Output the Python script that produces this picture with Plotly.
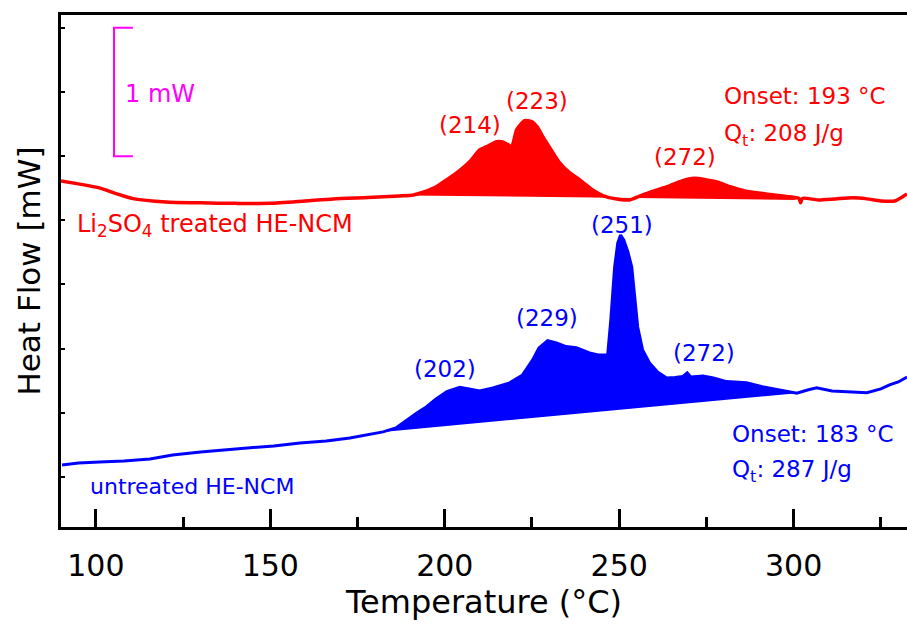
import plotly.graph_objects as go

# ---------------- data ----------------
# Li2SO4 treated HE-NCM (red)
red_T = [90, 95, 101, 106, 111, 120, 130, 140, 150, 160, 168, 178, 187, 191, 194, 197.7,
         200.5, 203.4, 207.2, 210, 212, 214.9, 216.6, 218, 219.2, 220.6, 222.9, 224.9, 226.5,
         228.1, 230.5, 233, 235.5, 238.7, 242.4, 246.4, 250.1, 253, 256, 260, 264, 268, 271.5,
         275, 278, 282, 286, 292, 298, 301.5, 302, 302.5, 307, 312, 317, 321, 325, 329, 332.5]
red_HF = [2.807, 2.784, 2.753, 2.706, 2.667, 2.643, 2.636, 2.632, 2.632, 2.651, 2.667, 2.678,
          2.690, 2.698, 2.721, 2.763, 2.815, 2.869, 2.958, 3.049, 3.074, 3.113, 3.111, 3.092,
          3.074, 3.205, 3.277, 3.269, 3.228, 3.152, 3.049, 2.945, 2.877, 2.815, 2.737, 2.682,
          2.663, 2.659, 2.690, 2.729, 2.764, 2.807, 2.827, 2.815, 2.799, 2.760, 2.729, 2.706,
          2.686, 2.671, 2.636, 2.671, 2.659, 2.667, 2.675, 2.667, 2.651, 2.651, 2.706]
red_base_T = [190, 301]
red_base_HF = [2.694, 2.659]

# untreated HE-NCM (blue)
blue_T = [90.3, 95, 101, 108, 115.5, 122, 130, 137, 144, 151, 158.5, 166, 172.8, 178, 182.3,
          186, 189, 192, 194.8, 197.5, 200.6, 204.3, 207, 210, 213.8, 218.6, 222.3, 225.2, 227,
          229.5, 232, 234.8, 237.7, 241.5, 244, 246.7, 247.6, 248.7, 249.6, 250.4, 251.3, 252.5,
          253.6, 254.5, 255.3, 256.7, 258.7, 261, 263.6, 266, 268.2, 269.5, 270.5, 274, 277,
          280.8, 286.5, 291, 296, 300.9, 304, 306.6, 311, 316, 321, 325, 327.5, 330, 332.5]
blue_HF = [0.594, 0.609, 0.617, 0.625, 0.640, 0.671, 0.695, 0.710, 0.726, 0.742, 0.765, 0.781,
           0.804, 0.827, 0.851, 0.882, 0.944, 0.999, 1.048, 1.108, 1.165, 1.199, 1.186, 1.170,
           1.194, 1.233, 1.295, 1.412, 1.505, 1.562, 1.544, 1.516, 1.508, 1.466, 1.451, 1.451,
           1.724, 2.137, 2.324, 2.386, 2.347, 2.254, 2.137, 1.895, 1.669, 1.490, 1.389, 1.318,
           1.272, 1.276, 1.282, 1.311, 1.279, 1.287, 1.272, 1.243, 1.235, 1.204, 1.178, 1.152,
           1.178, 1.194, 1.170, 1.165, 1.157, 1.186, 1.217, 1.240, 1.279]
blue_base_T = [182.3, 300.9]
blue_base_HF = [0.851, 1.152]

# scale bar (1 mW)
scale_T = [110.6, 105.2, 105.2, 110.6]
scale_HF = [4.0, 4.0, 3.0, 3.0]

x_ticks = [100, 150, 200, 250, 300]
x_range = [90, 332.5]
y_range = [0.11, 4.10]

RED = "#ff0000"
BLUE = "#0000ff"
MAG = "#ff00ff"
FONT = "DejaVu Sans"


def segment(T, HF, lo, hi):
    xs, ys = [], []
    for t, h in zip(T, HF):
        if lo <= t <= hi:
            xs.append(t)
            ys.append(h)
    return xs, ys


fig = go.Figure()

# red fill
fig.add_trace(go.Scatter(x=red_base_T, y=red_base_HF, mode="lines",
                         line=dict(width=0, color=RED), showlegend=False, hoverinfo="skip"))
rx, ry = segment(red_T, red_HF, red_base_T[0], red_base_T[1])
rx = [red_base_T[0]] + rx + [red_base_T[1]]
ry = [red_base_HF[0]] + ry + [red_base_HF[1]]
fig.add_trace(go.Scatter(x=rx, y=ry, mode="lines", fill="tonexty", fillcolor=RED,
                         line=dict(width=0, color=RED, shape="spline", smoothing=0.6),
                         showlegend=False, hoverinfo="skip"))

# blue fill
fig.add_trace(go.Scatter(x=blue_base_T, y=blue_base_HF, mode="lines",
                         line=dict(width=0, color=BLUE), showlegend=False, hoverinfo="skip"))
bx, by = segment(blue_T, blue_HF, blue_base_T[0], blue_base_T[1])
bx = [blue_base_T[0]] + bx + [blue_base_T[1]]
by = [blue_base_HF[0]] + by + [blue_base_HF[1]]
fig.add_trace(go.Scatter(x=bx, y=by, mode="lines", fill="tonexty", fillcolor=BLUE,
                         line=dict(width=0, color=BLUE), showlegend=False, hoverinfo="skip"))

# curves
fig.add_trace(go.Scatter(x=red_T, y=red_HF, mode="lines",
                         line=dict(color=RED, width=3.5, shape="spline", smoothing=0.6),
                         showlegend=False))
fig.add_trace(go.Scatter(x=blue_T, y=blue_HF, mode="lines", line=dict(color=BLUE, width=3),
                         showlegend=False))
# scale bar
fig.add_trace(go.Scatter(x=scale_T, y=scale_HF, mode="lines", line=dict(color=MAG, width=2),
                         showlegend=False))

annots = [
    ("1 mW", 107.7, 3.485, MAG, 24, "left"),
    ("(214)", 207.2, 3.243, RED, 23, "center"),
    ("(223)", 226.4, 3.431, RED, 23, "center"),
    ("(272)", 268.8, 2.994, RED, 23, "center"),
    ("Onset: 193 °C", 279.4, 3.470, RED, 23, "left"),
    ("Q<sub>t</sub>: 208 J/g", 279.4, 3.166, RED, 23, "left"),
    ("Li<sub>2</sub>SO<sub>4</sub> treated HE-NCM", 94.0, 2.456, RED, 24, "left"),
    ("(251)", 250.7, 2.464, BLUE, 23, "center"),
    ("(229)", 229.2, 1.739, BLUE, 23, "center"),
    ("(202)", 200.0, 1.342, BLUE, 23, "center"),
    ("(272)", 274.2, 1.466, BLUE, 23, "center"),
    ("Onset: 183 °C", 281.9, 0.835, BLUE, 23, "left"),
    ("Q<sub>t</sub>: 287 J/g", 281.9, 0.547, BLUE, 23, "left"),
    ("untreated HE-NCM", 97.7, 0.422, BLUE, 22, "left"),
]
for txt, x, y, c, s, anc in annots:
    fig.add_annotation(x=x, y=y, text=txt, showarrow=False, xanchor=anc, yanchor="middle",
                       font=dict(family=FONT, size=s, color=c))

fig.update_layout(
    width=907, height=625,
    margin=dict(l=61, r=0, t=15, b=98),
    paper_bgcolor="white", plot_bgcolor="white",
    font=dict(family=FONT, color="black"),
    xaxis=dict(range=x_range, tickvals=x_ticks, ticks="inside", ticklen=18, tickwidth=3,
               tickcolor="black", showline=True, linewidth=3, linecolor="black", mirror=True,
               showgrid=False, zeroline=False, tickfont=dict(size=30, family=FONT),
               ticklabelstandoff=10,
               minor=dict(dtick=25, tick0=75, ticks="inside", ticklen=10, tickwidth=3,
                          tickcolor="black", showgrid=False),
               title=dict(text="Temperature (°C)", font=dict(size=32, family=FONT), standoff=6)),
    yaxis=dict(range=y_range, dtick=0.5, tick0=0, ticks="inside", ticklen=4, tickwidth=2,
               tickcolor="black", showticklabels=False, showline=True, linewidth=3,
               linecolor="black", showgrid=False, zeroline=False,
               title=dict(text="Heat Flow [mW]", font=dict(size=31, family=FONT), standoff=9)),
)

fig.write_html("out.html")
